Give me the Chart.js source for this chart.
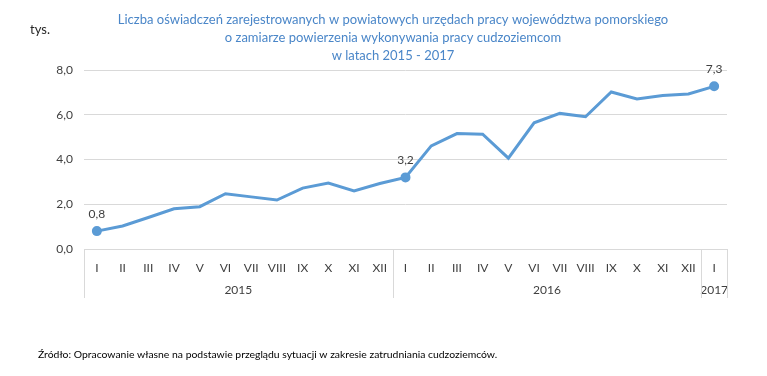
<!DOCTYPE html>
<html>
<head>
<meta charset="utf-8">
<script src="https://cdn.jsdelivr.net/npm/chart.js"></script>
<style>
html, body { margin: 0; padding: 0; background: #fff; }
#wrap { width: 767px; height: 376px; position: relative; }
</style>
</head>
<body>
<div id="wrap"><canvas id="linechart"></canvas></div>
<script>
const months = ['I', 'II', 'III', 'IV', 'V', 'VI', 'VII', 'VIII', 'IX', 'X', 'XI', 'XII',
    'I', 'II', 'III', 'IV', 'V', 'VI', 'VII', 'VIII', 'IX', 'X', 'XI', 'XII',
    'I'];
const values = [0.8, 1.03, 1.41, 1.80, 1.89, 2.47, 2.33, 2.19, 2.72, 2.95, 2.60, 2.93,
    3.2, 4.61, 5.16, 5.13, 4.06, 5.64, 6.06, 5.91, 7.02, 6.71, 6.86, 6.93,
    7.27];
const years = ['2015', '2016', '2017'];
const yearLengths = [12, 12, 1];
const labelled = [0, 12, 24];
const titleLines = [
    'Liczba oświadczeń zarejestrowanych w powiatowych urzędach pracy województwa pomorskiego',
    'o zamiarze powierzenia wykonywania pracy cudzoziemcom',
    'w latach 2015 - 2017'
];

const FONT = 'Lato, "Open Sans", sans-serif';
const comma = v => v.toFixed(1).replace('.', ',');

// title, year groups under the month axis, unit label, point labels, source note
const extras = {
    id: 'extras',
    afterDraw(chart) {
        const ctx = chart.ctx;
        const area = chart.chartArea;
        const xs = chart.scales.x;
        ctx.save();
        ctx.textAlign = 'center';
        ctx.textBaseline = 'middle';

        ctx.fillStyle = '#4a86c8';
        ctx.font = '13px ' + FONT;
        titleLines.forEach((t, i) => ctx.fillText(t, 393, 20 + i * 18));

        ctx.strokeStyle = '#d9d9d9';
        ctx.lineWidth = 1;
        ctx.fillStyle = '#404040';
        ctx.font = '12px ' + FONT;
        const edge = i => {
            if (i <= 0) return area.left;
            if (i >= months.length) return area.right;
            return (xs.getPixelForValue(i - 1) + xs.getPixelForValue(i)) / 2;
        };
        let start = 0;
        years.forEach((y, k) => {
            const a = edge(start);
            const b = edge(start + yearLengths[k]);
            ctx.fillText(y, (a + b) / 2, area.bottom + 41);
            start += yearLengths[k];
        });
        start = 0;
        for (let k = 0; k <= years.length; k++) {
            const px = Math.round(edge(start)) + 0.5;
            ctx.beginPath();
            ctx.moveTo(px, area.bottom);
            ctx.lineTo(px, area.bottom + 49);
            ctx.stroke();
            if (k < years.length) start += yearLengths[k];
        }

        // value labels
        const pts = chart.getDatasetMeta(0).data;
        labelled.forEach(i => {
            ctx.fillText(comma(values[i]), pts[i].x, pts[i].y - 17);
        });

        ctx.fillStyle = '#262626';
        ctx.font = '13px ' + FONT;
        ctx.fillText('tys.', 40, 30);

        ctx.fillStyle = '#000';
        ctx.font = '10.4px ' + FONT;
        ctx.textAlign = 'left';
        ctx.fillText('Źródło: Opracowanie własne na podstawie przeglądu sytuacji w zakresie zatrudniania cudzoziemców.', 38, 355);
        ctx.restore();
    }
};

new Chart(document.getElementById('linechart'), {
    type: 'line',
    data: {
        labels: months,
        datasets: [{
            data: values,
            borderColor: '#5b9bd5',
            backgroundColor: '#5b9bd5',
            borderWidth: 3,
            tension: 0,
            pointRadius: values.map((v, i) => labelled.includes(i) ? 3.5 : 0),
            pointHoverRadius: 0
        }]
    },
    options: {
        responsive: true,
        maintainAspectRatio: false,
        animation: false,
        events: [],
        layout: { padding: { top: 70, left: 0, right: 40, bottom: 78 } },
        plugins: {
            legend: { display: false },
            tooltip: { enabled: false },
            title: { display: false }
        },
        scales: {
            x: {
                offset: true,
                grid: { display: false, drawTicks: false },
                border: { display: true, color: '#d9d9d9' },
                ticks: { color: '#404040', font: { family: FONT, size: 12 }, padding: 12, autoSkip: false, maxRotation: 0 },
                afterFit(scale) { scale.height = 49; }
            },
            y: {
                min: 0,
                max: 8,
                grid: { color: '#d9d9d9', drawTicks: false },
                border: { display: false },
                ticks: { stepSize: 2, color: '#404040', font: { family: FONT, size: 12 }, padding: 11, callback: v => comma(v) },
                afterFit(scale) { scale.width = 84; }
            }
        }
    },
    plugins: [extras]
});
</script>
</body>
</html>
